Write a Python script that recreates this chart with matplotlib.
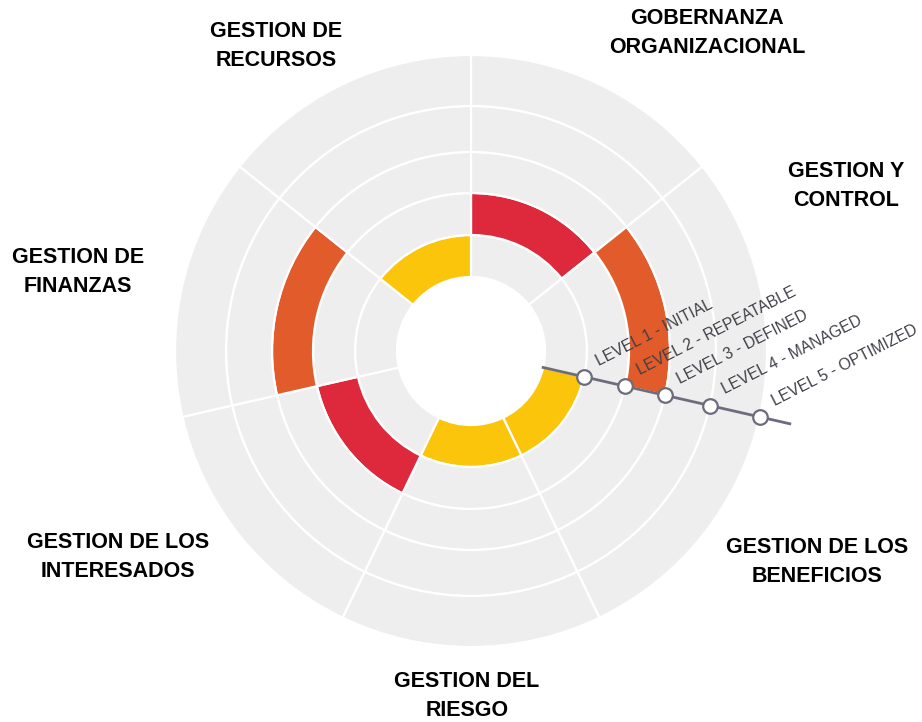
import numpy as np
import matplotlib
matplotlib.use('Agg')
import matplotlib.pyplot as plt

# sectors clockwise from 12 o'clock
categories = ['GOBERNANZA\nORGANIZACIONAL', 'GESTION Y\nCONTROL', 'GESTION DE LOS\nBENEFICIOS',
              'GESTION DEL\nRIESGO', 'GESTION DE LOS\nINTERESADOS', 'GESTION DE\nFINANZAS',
              'GESTION DE\nRECURSOS']
levels = [2, 3, 1, 1, 2, 3, 1]
level_names = ['LEVEL 1 - INITIAL', 'LEVEL 2 - REPEATABLE', 'LEVEL 3 - DEFINED',
               'LEVEL 4 - MANAGED', 'LEVEL 5 - OPTIMIZED']
level_colors = {1: '#fbc50b', 2: '#de283c', 3: '#e25b2a'}

# layout (pixels of the 922x722 image)
W, H = 922, 722
cx, cy = 471, 351
rmax = 330
ring_edges = [74, 116, 158, 199, 245, 296]
label_pos = [(707, 33), (846, 186), (817, 562), (467, 696), (118, 557), (78, 272), (276, 46)]

grey = '#eeeeee'
line_col = '#6c6c7c'

fig = plt.figure(figsize=(W/100, H/100), dpi=100)
ax = fig.add_axes([(cx-rmax)/W, (H-cy-rmax)/H, 2*rmax/W, 2*rmax/H], projection='polar')
ax.set_theta_zero_location('N')
ax.set_theta_direction(-1)
ax.set_ylim(0, rmax)
ax.axis('off')

n = len(categories)
width = 2*np.pi/n
for i in range(n):
    th = (i+0.5)*width
    for k in range(5):
        c = level_colors[levels[i]] if k+1 == levels[i] else grey
        ax.bar(th, ring_edges[k+1]-ring_edges[k], width=width, bottom=ring_edges[k],
               color=c, edgecolor='white', linewidth=1.6, align='center')

# level scale along the boundary between sectors 2 and 3
ang = 2*width
ax.plot([ang, ang], [ring_edges[0], 327], color=line_col, lw=2, zorder=5, clip_on=False)
ax.plot([ang]*5, ring_edges[1:], 'o', ms=10.5, mfc='white', mec=line_col, mew=1.6,
        zorder=6, clip_on=False)
for k, name in enumerate(level_names):
    ax.annotate(name, xy=(ang, ring_edges[k+1]), xytext=(11, 8), textcoords='offset points',
                rotation=27, rotation_mode='anchor', ha='left', va='baseline',
                fontsize=11.3, color='#404048', family='Liberation Sans', zorder=7)

for name, (x, y) in zip(categories, label_pos):
    fig.text(x/W, 1-y/H, name, ha='center', va='center', multialignment='center',
             fontsize=15.5, fontweight='bold', family='Liberation Sans', color='black',
             linespacing=1.45)

fig.savefig('out.png', dpi=100)
